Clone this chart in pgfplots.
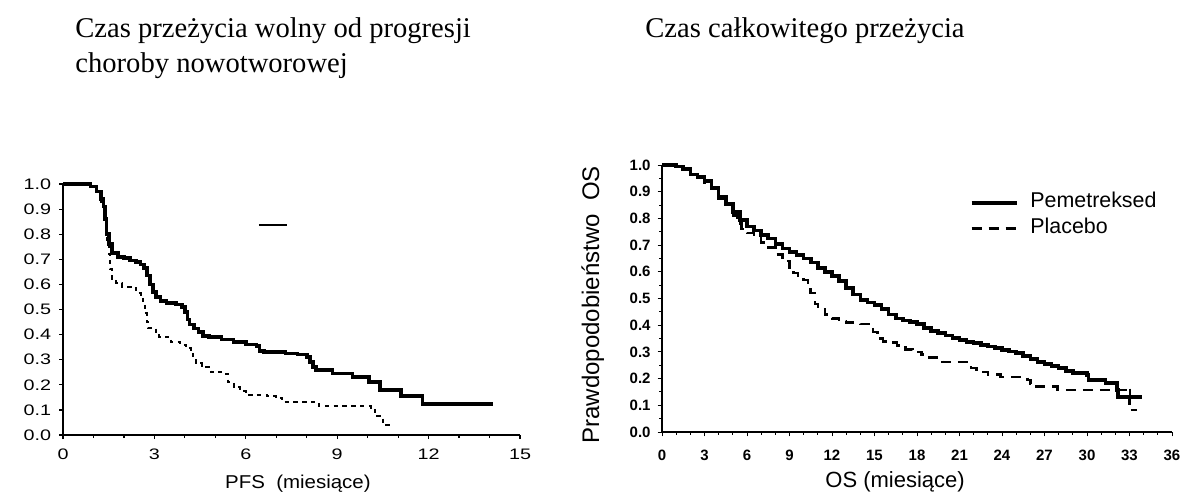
\documentclass[border=0pt]{standalone}
\usepackage{fontspec}
\setmainfont{Liberation Sans}
\newfontfamily\timesfont{Liberation Serif}
\newfontfamily\stretchfont[FakeStretch=1.3]{Liberation Sans}
\newfontfamily\labelfont[FakeStretch=1.1]{Liberation Sans}
\usepackage{pgfplots}
\pgfplotsset{compat=1.18}
\usepackage{pgfplotstable}

\pgfplotstableread{
x y
0 1.0
0.5 1.0
0.9 0.99
1.1 0.97
1.25 0.94
1.33 0.91
1.38 0.86
1.43 0.80
1.5 0.76
1.6 0.725
1.8 0.71
2.0 0.705
2.2 0.695
2.4 0.69
2.55 0.68
2.65 0.665
2.75 0.635
2.85 0.60
2.95 0.57
3.05 0.55
3.2 0.535
3.4 0.525
3.7 0.52
3.9 0.51
4.0 0.49
4.08 0.46
4.15 0.44
4.3 0.425
4.45 0.41
4.6 0.395
4.8 0.39
5.2 0.38
5.6 0.37
6.0 0.36
6.35 0.355
6.45 0.335
6.6 0.33
7.3 0.325
7.7 0.32
8.0 0.31
8.1 0.29
8.2 0.27
8.3 0.26
8.85 0.245
9.5 0.23
10.05 0.21
10.4 0.18
11.1 0.155
11.8 0.123
14.1 0.123
}\pfspem

\pgfplotstableread{
x y
0 1.0
0.5 1.0
0.9 0.99
1.1 0.97
1.25 0.93
1.33 0.90
1.4 0.83
1.45 0.77
1.5 0.72
1.55 0.66
1.62 0.62
1.75 0.605
1.95 0.59
2.3 0.585
2.4 0.565
2.55 0.55
2.62 0.52
2.68 0.485
2.75 0.45
2.8 0.425
3.05 0.41
3.15 0.39
3.55 0.37
3.85 0.36
4.05 0.345
4.2 0.33
4.28 0.305
4.36 0.285
4.55 0.27
4.85 0.25
5.35 0.245
5.42 0.21
5.6 0.19
5.8 0.175
6.0 0.16
6.7 0.155
7.0 0.147
7.2 0.13
8.4 0.115
10.1 0.10
10.25 0.075
10.5 0.04
10.8 0.04
}\pfspla

\pgfplotstableread{
x y
0 1.000
0.5 1.000
1.0 0.995
1.5 0.985
2.0 0.965
2.5 0.955
3.0 0.94
3.5 0.915
4.0 0.88
4.5 0.855
5.0 0.825
5.5 0.795
6.0 0.77
6.5 0.755
7.0 0.738
7.5 0.725
8.0 0.705
8.5 0.688
9.0 0.675
9.5 0.662
10.0 0.650
10.5 0.635
11.0 0.615
11.5 0.6
12.0 0.585
12.5 0.565
13.0 0.54
13.5 0.515
14.0 0.495
14.5 0.485
15.0 0.475
15.5 0.46
16.0 0.44
16.5 0.425
17.0 0.418
17.5 0.413
18.0 0.405
18.5 0.39
19.0 0.378
19.5 0.37
20.0 0.362
20.5 0.352
21.0 0.345
21.5 0.338
22.0 0.333
22.5 0.326
23.0 0.32
23.5 0.315
24.0 0.308
24.5 0.302
25.0 0.295
25.5 0.285
26.0 0.273
26.5 0.262
27.0 0.255
27.5 0.248
28.0 0.24
28.5 0.228
29.0 0.222
30.0 0.213
30.1 0.195
31.3 0.183
32.1 0.157
32.2 0.13
33.9 0.13
}\ospem

\pgfplotstableread{
x y
0 1.000
0.5 1.000
1.0 0.995
1.5 0.985
2.0 0.965
2.5 0.955
3.0 0.935
3.5 0.91
4.0 0.875
4.5 0.85
5.0 0.81
5.3 0.78
5.6 0.76
6.0 0.745
6.5 0.73
7.0 0.71
7.5 0.69
8.0 0.665
8.5 0.64
9.0 0.61
9.3 0.595
9.6 0.585
10.0 0.57
10.3 0.545
10.5 0.52
10.8 0.48
11.0 0.46
11.5 0.44
12.0 0.425
12.5 0.415
13.0 0.41
14.0 0.405
14.6 0.395
14.9 0.375
15.2 0.35
15.6 0.34
16.0 0.335
16.6 0.325
17.2 0.31
17.7 0.30
18.3 0.29
18.9 0.28
19.4 0.27
19.8 0.262
21.5 0.255
21.8 0.24
22.2 0.225
23.0 0.215
23.9 0.206
25.8 0.195
26.0 0.18
26.2 0.17
27.9 0.157
32.6 0.157
33.0 0.082
33.5 0.082
}\ospla

\begin{document}
\begin{tikzpicture}
\useasboundingbox (0,0) rectangle (590pt,-246.5pt);
\node[anchor=base west, inner sep=0pt, font=\timesfont\fontsize{14.3}{17}\selectfont] at (37.5pt,-18.5pt) {Czas przeżycia wolny od progresji};
\node[anchor=base west, inner sep=0pt, font=\timesfont\fontsize{14.3}{17}\selectfont] at (37.5pt,-36pt) {choroby nowotworowej};
\node[anchor=base west, inner sep=0pt, font=\timesfont\fontsize{14.3}{17}\selectfont] at (322.5pt,-18.5pt) {Czas całkowitego przeżycia};

% ---------- left: PFS ----------
\begin{axis}[
  at={(31.5pt,-217.5pt)}, anchor=south west,
  scale only axis, width=228.5pt, height=125.5pt,
  xmin=0, xmax=15, ymin=0, ymax=1,
  clip=false,
  axis x line=bottom, axis y line=left,
  axis line style={-, line width=0.8pt},
  xtick={0,3,6,9,12,15}, minor x tick num=2,
  ytick={0,0.1,0.2,0.3,0.4,0.5,0.6,0.7,0.8,0.9,1.0},
  tick align=outside, major tick length=2pt, minor tick length=1.6pt,
  every tick/.style={line width=0.6pt, black},
  /pgf/number format/assume math mode=true,
  ticklabel style={font=\fontsize{7.6}{8}\stretchfont},
  xticklabel style={yshift=-1.6pt},
  yticklabel style={xshift=-0.4pt, /pgf/number format/.cd, fixed, fixed zerofill, precision=1},
  xlabel={PFS\ \ (miesiące)},
  xlabel style={at={(axis description cs:0.514,0)}, anchor=base, yshift=-26.5pt, font=\fontsize{9.3}{11}\labelfont},
]
\addplot[const plot, black, line width=1.8pt] table[x=x,y=y] {\pfspem};
\addplot[const plot, black, line width=1pt, dash pattern=on 2.2pt off 2.2pt] table[x=x,y=y] {\pfspla};
\addplot[black, line width=0.9pt] coordinates {(6.43,0.837) (7.34,0.837)};
\end{axis}

% ---------- right: OS ----------
\begin{axis}[
  at={(331pt,-216pt)}, anchor=south west,
  scale only axis, width=255pt, height=133.5pt,
  xmin=0, xmax=36, ymin=0, ymax=1,
  clip=false,
  axis x line=bottom, axis y line=left,
  axis line style={-, line width=0.6pt},
  xtick={0,3,...,36}, minor x tick num=2,
  ytick={0,0.1,0.2,0.3,0.4,0.5,0.6,0.7,0.8,0.9,1.0}, minor y tick num=1,
  tick align=outside, major tick length=2.2pt, minor tick length=1.4pt,
  every tick/.style={line width=0.5pt, black},
  /pgf/number format/assume math mode=true,
  ticklabel style={font=\fontsize{7.5}{8}\selectfont\bfseries},
  xticklabel style={yshift=-3.2pt},
  yticklabel style={/pgf/number format/.cd, fixed, fixed zerofill, precision=1},
  xlabel={OS (miesiące)},
  xlabel style={at={(axis description cs:0.457,0)}, anchor=base, yshift=-27.5pt, font=\fontsize{11}{13}\selectfont},
  ylabel={Prawdopodobieństwo\ \ OS},
  ylabel style={at={(axis description cs:-0.1235,0.476)}, anchor=base, font=\fontsize{12}{14}\selectfont},
  legend style={at={(axis cs:21.7,0.909)}, anchor=north west, draw=none, fill=none,
    font=\fontsize{10.7}{12}\selectfont, row sep=0pt, inner sep=0pt,
    nodes={text height=7.5pt, text depth=2.5pt, inner ysep=1.5pt, inner xsep=6pt}},
  legend cell align=left,
  legend image code/.code={\draw[#1] (0pt,0pt) -- (22.5pt,0pt);},
]
\addplot[const plot, black, line width=1.8pt] table[x=x,y=y] {\ospem};
\addlegendentry{Pemetreksed}
\addplot[const plot, black, line width=1.3pt, dash pattern=on 5pt off 3.5pt] table[x=x,y=y] {\ospla};
\addlegendentry{Placebo}
\addplot[only marks, mark=|, mark size=3pt, black, line width=1pt, forget plot] coordinates {(33.0,0.14)};
\end{axis}
\end{tikzpicture}
\end{document}
